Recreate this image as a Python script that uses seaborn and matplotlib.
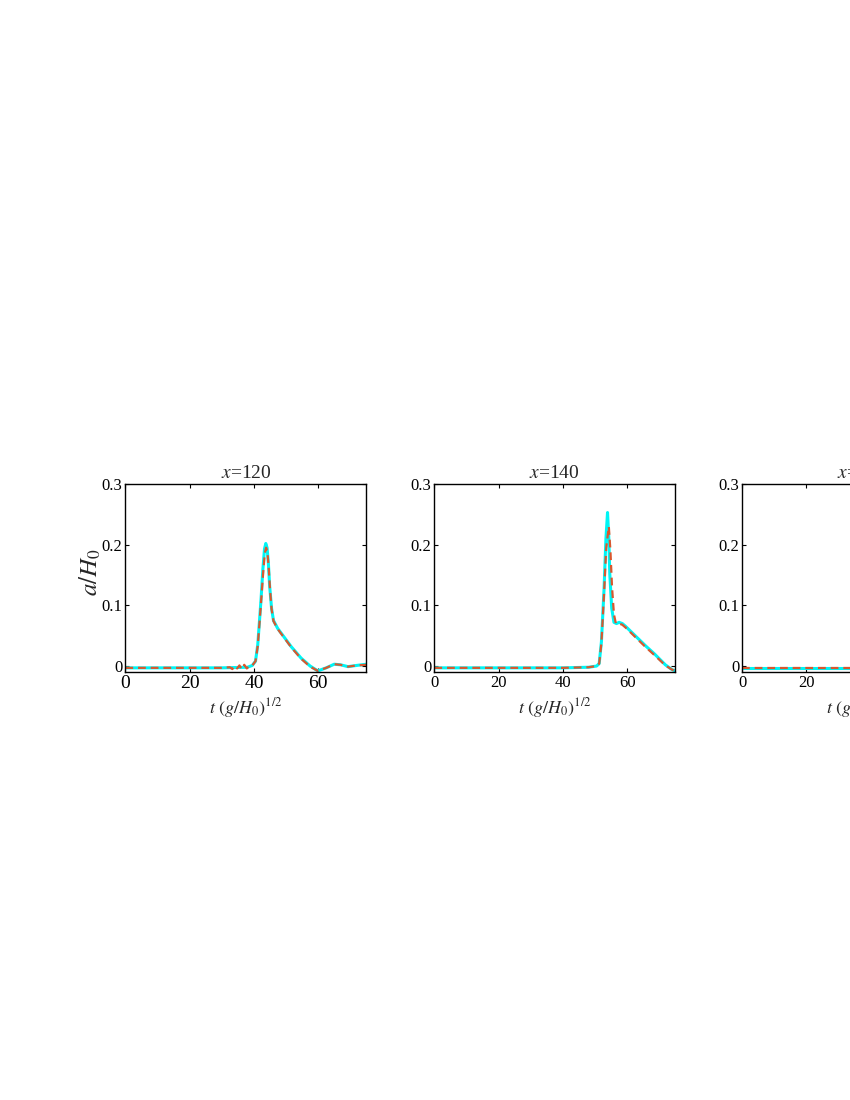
import numpy as np
import pandas as pd
import matplotlib
matplotlib.use("Agg")
import matplotlib.pyplot as plt
import seaborn as sns

# ---- data ----
titles = ["120", "140", "160"]

t1_model = [0, 10, 20, 30, 38, 39.5, 40.5, 41.2, 42.2, 42.8, 43.3, 43.7, 44.1, 44.5, 44.9, 45.5, 46.1, 47.4, 49.5, 51.6, 54.7, 57.5, 59.9, 62.5, 65.0, 67.0, 69.3, 72.0, 75.0]
a1_model = [-0.003, -0.003, -0.003, -0.003, -0.002, 0.001, 0.008, 0.035, 0.108, 0.160, 0.193, 0.202, 0.195, 0.170, 0.132, 0.095, 0.075, 0.062, 0.047, 0.032, 0.013, 0.000, -0.008, -0.003, 0.003, 0.002, -0.001, 0.001, 0.003]
t1_obs = [0, 10, 20, 30, 32.5, 33.3, 34.0, 34.8, 35.5, 36.2, 37.0, 37.8, 38.5, 39.5, 40.5, 41.2, 42.2, 42.9, 43.4, 43.8, 44.2, 44.6, 45.0, 45.5, 46.1, 47.4, 49.5, 51.6, 54.7, 57.5, 59.9, 62.5, 65.0, 67.0, 69.3, 72.0, 75.0]
a1_obs = [-0.003, -0.003, -0.003, -0.003, -0.002, -0.005, 0.000, -0.004, 0.001, -0.005, 0.002, -0.004, 0.000, 0.001, 0.008, 0.033, 0.103, 0.155, 0.186, 0.195, 0.188, 0.163, 0.128, 0.094, 0.074, 0.061, 0.046, 0.031, 0.012, -0.001, -0.008, -0.003, 0.003, 0.002, -0.001, 0.001, 0.002]

t2_model = [0, 10, 20, 30, 40, 48, 50.5, 51.3, 52.0, 52.8, 53.4, 53.9, 54.3, 54.6, 55.2, 55.9, 56.7, 57.5, 58.5, 59.6, 62.5, 65.8, 68.5, 71.9, 74.0, 75.0]
a2_model = [-0.003, -0.003, -0.003, -0.003, -0.003, -0.002, 0.000, 0.004, 0.040, 0.125, 0.210, 0.253, 0.210, 0.152, 0.095, 0.072, 0.070, 0.072, 0.070, 0.065, 0.050, 0.033, 0.020, 0.002, -0.006, -0.008]
t2_obs = [0, 10, 20, 30, 40, 48, 50.5, 51.3, 52.0, 52.8, 53.5, 54.3, 54.8, 55.3, 55.9, 56.5, 57.5, 58.5, 59.6, 62.5, 65.8, 68.5, 71.9, 74.0, 75.0]
a2_obs = [-0.003, -0.003, -0.003, -0.003, -0.003, -0.002, 0.000, 0.004, 0.038, 0.118, 0.195, 0.230, 0.190, 0.130, 0.085, 0.070, 0.070, 0.068, 0.063, 0.048, 0.031, 0.018, 0.001, -0.006, -0.008]

t3_model = [0, 10, 20, 30, 40, 50, 60, 62, 64, 66, 68, 70, 75]
a3_model = [-0.003, -0.003, -0.003, -0.003, -0.003, -0.003, -0.002, 0.010, 0.120, 0.200, 0.110, 0.070, 0.040]
t3_obs = t3_model
a3_obs = [-0.003, -0.003, -0.003, -0.003, -0.003, -0.003, -0.002, 0.009, 0.110, 0.190, 0.105, 0.068, 0.038]

xticks = [0, 20, 40, 60]
xticklabels = ["0", "20", "40", "60"]
yticks = [0, 0.1, 0.2, 0.3]
yticklabels = ["0", "0.1", "0.2", "0.3"]

panels = [
    (t1_model, a1_model, t1_obs, a1_obs),
    (t2_model, a2_model, t2_obs, a2_obs),
    (t3_model, a3_model, t3_obs, a3_obs),
]

sns.set_style("ticks")
plt.rcParams["font.family"] = ["Liberation Serif", "DejaVu Serif"]
plt.rcParams["mathtext.fontset"] = "stix"

fig = plt.figure(figsize=(8.5, 11), dpi=100)
lefts = [0.1475, 0.511, 0.873]
width = 0.2835
bottom = 0.389
height = 0.171

cyan = "#00F5F5"
red = "#D9572E"

for i, (tm, am, to, ao) in enumerate(panels):
    ax = fig.add_axes([lefts[i], bottom, width, height])
    dm = pd.DataFrame({"t": tm, "a": am})
    do = pd.DataFrame({"t": to, "a": ao})
    sns.lineplot(data=dm, x="t", y="a", ax=ax, color=cyan, lw=2.2, sort=False)
    sns.lineplot(data=do, x="t", y="a", ax=ax, color=red, lw=1.6, sort=False,
                 dashes=False, linestyle=(0, (3.5, 2.2)))
    ax.set_xlim(0, 75)
    ax.set_ylim(-0.01, 0.3)
    ax.set_xticks(xticks)
    ax.set_yticks(yticks)
    xs = 14 if i == 0 else 12
    ax.set_xticklabels(xticklabels, fontsize=xs)
    ax.set_yticklabels(yticklabels, fontsize=12)
    ax.tick_params(direction="in", top=True, right=True, length=3, width=0.8, pad=2, colors="black")
    for s in ax.spines.values():
        s.set_visible(True)
        s.set_color("black")
        s.set_linewidth(1.0)
    ax.set_title(r"$x$=" + titles[i], fontsize=14, pad=4)
    ax.set_xlabel(r"$t\ (g/H_0)^{1/2}$", fontsize=13)
    ax.xaxis.set_label_coords(0.5, -0.125)
    if i == 0:
        ax.set_ylabel(r"$a/H_0$", fontsize=18)
        ax.yaxis.set_label_coords(-0.094, 0.53)
    else:
        ax.set_ylabel("")

fig.savefig("out.png", dpi=100)
